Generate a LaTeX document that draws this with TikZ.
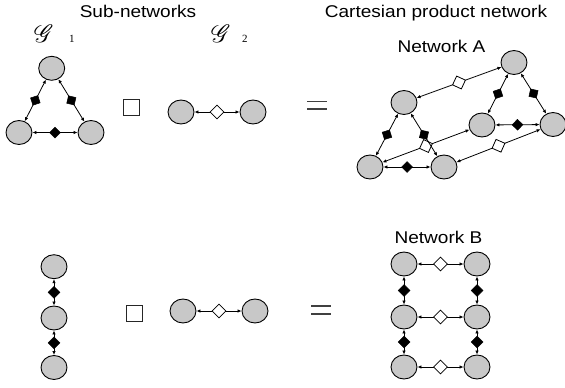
\documentclass[tikz,border=0pt]{standalone}
\usepackage{fontspec}
\usepackage{graphicx}
\usepackage{mathrsfs}
\setmainfont{Liberation Sans}
\newfontfamily\labfont[FakeStretch=1.12]{Liberation Sans}
\newfontfamily\serfont{Liberation Serif}
\usetikzlibrary{shapes.geometric,arrows.meta}
\definecolor{nodegray}{RGB}{200,200,200}
\tikzset{
 vtx/.style={ellipse,draw=black,line width=0.9pt,fill=nodegray,minimum width=26pt,minimum height=24pt,inner sep=0},
 bd/.style={diamond,fill=black,draw=black,line width=0.5pt,minimum width=11pt,minimum height=11pt,inner sep=0,sloped},
 bdb/.style={bd,minimum width=12pt,minimum height=12pt},
 wd/.style={diamond,fill=white,draw=black,line width=0.8pt,minimum width=14pt,minimum height=14pt,inner sep=0,sloped},
 lnk/.style={line width=0.8pt,{Latex[length=4pt,width=3.5pt]}-{Latex[length=4pt,width=3.5pt]}},
 title/.style={font=\labfont\fontsize{17}{20}\selectfont,anchor=base,inner sep=0},
 glab/.style={anchor=base west,inner sep=0},
 gsub/.style={anchor=base west,inner sep=0,font=\serfont\fontsize{11}{11}\selectfont},
 opsq/.style={rectangle,draw=black!85,line width=0.9pt,fill=white,minimum size=16pt,inner sep=0},
 eqline/.style={draw=black!75,line width=1.2pt},
}
\begin{document}
\begin{tikzpicture}[x=1pt,y=-1pt]
\useasboundingbox (0,0) rectangle (565,388);
% titles
\node[title] (tsub) at (138,17.5) {Sub-networks};
\node[title] (tcart) at (436,17.5) {Cartesian product network};
\node[title] (tna) at (441.5,52) {Network A};
\node[title] (tnb) at (438.5,243) {Network B};
\node[glab] (g1) at (34,42) {\scalebox{2.5}{$\mathscr{G}$}};
\node[gsub] (g1s) at (69,42) {1};
\node[glab] (g2) at (211,42) {\scalebox{2.5}{$\mathscr{G}$}};
\node[gsub] (g2s) at (242,42) {2};
% G1 triangle
\node[vtx] (t1) at (51.7,68.3) {};
\node[vtx] (t2) at (19,132.5) {};
\node[vtx] (t3) at (91,132.5) {};
\draw[lnk] (t1) -- node[bd]{} (t2);
\draw[lnk] (t1) -- node[bd]{} (t3);
\draw[lnk] (t2) -- node[bd]{} (t3);
% operator
\node[opsq] (op1) at (131,107) {};
% G2 top
\node[vtx] (u1) at (181,112) {};
\node[vtx] (u2) at (253,112) {};
\draw[lnk] (u1) -- node[wd]{} (u2);
% equals top
\draw[eqline] (307,101.5) -- (327,101.5);
\draw[eqline] (307,109) -- (327,109);
% Network A
\node[vtx] (atr) at (514,62.5) {};
\node[vtx] (aul) at (404,102.5) {};
\node[vtx] (am) at (482,125) {};
\node[vtx] (ar) at (553,124.5) {};
\node[vtx] (abl) at (370,167) {};
\node[vtx] (abm) at (444,167) {};
\draw[lnk] (aul) -- node[wd]{} (atr);
\draw[lnk] (abl) -- node[wd]{} (am);
\draw[lnk] (abm) -- node[wd]{} (ar);
\draw[lnk] (atr) -- node[bd]{} (am);
\draw[lnk] (atr) -- node[bd]{} (ar);
\draw[lnk] (am) -- node[bd]{} (ar);
\draw[lnk] (aul) -- node[bd]{} (abl);
\draw[lnk] (aul) -- node[bd]{} (abm);
\draw[lnk] (abl) -- node[bd]{} (abm);
% chain
\node[vtx] (c1) at (54,266.7) {};
\node[vtx] (c2) at (54,318) {};
\node[vtx] (c3) at (54,367.5) {};
\draw[lnk] (c1) -- node[bdb]{} (c2);
\draw[lnk] (c2) -- node[bdb]{} (c3);
% operator bottom
\node[opsq] (op2) at (134,313) {};
% G2 bottom
\node[vtx] (v1) at (183,311) {};
\node[vtx] (v2) at (255,311) {};
\draw[lnk] (v1) -- node[wd]{} (v2);
% equals bottom
\draw[eqline] (311,306) -- (331,306);
\draw[eqline] (311,314) -- (331,314);
% Network B
\node[vtx] (b11) at (404,264) {};
\node[vtx] (b12) at (477,264) {};
\node[vtx] (b21) at (404,317) {};
\node[vtx] (b22) at (477,317) {};
\node[vtx] (b31) at (404,367) {};
\node[vtx] (b32) at (477,367) {};
\draw[lnk] (b11) -- node[wd]{} (b12);
\draw[lnk] (b21) -- node[wd]{} (b22);
\draw[lnk] (b31) -- node[wd]{} (b32);
\draw[lnk] (b11) -- node[bdb]{} (b21);
\draw[lnk] (b21) -- node[bdb]{} (b31);
\draw[lnk] (b12) -- node[bdb]{} (b22);
\draw[lnk] (b22) -- node[bdb]{} (b32);
\end{tikzpicture}
\end{document}
